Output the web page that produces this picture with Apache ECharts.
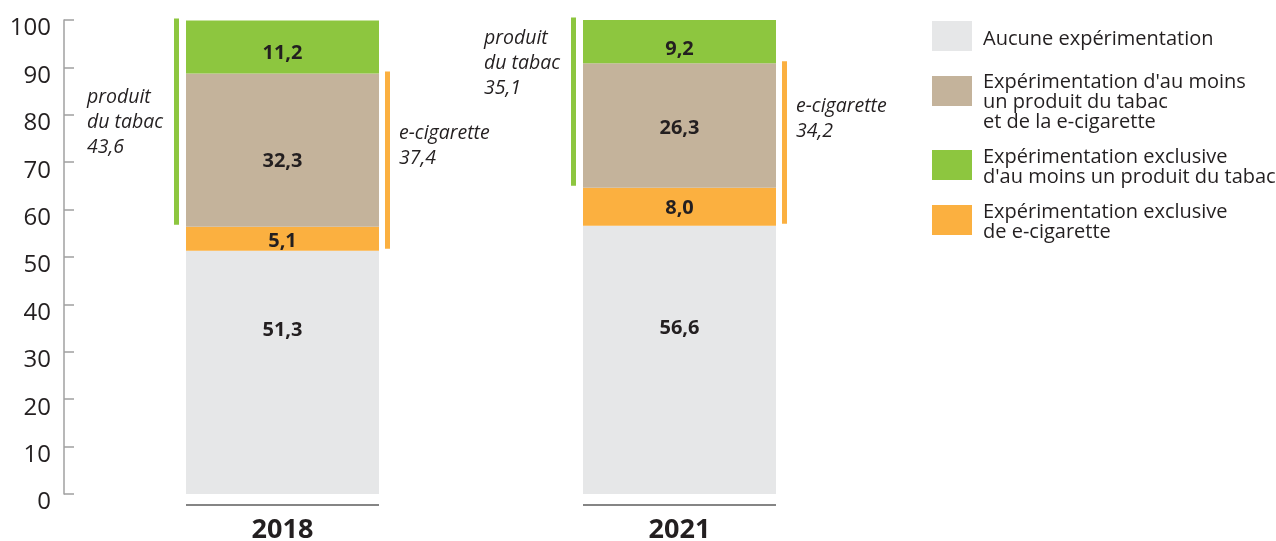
<!DOCTYPE html>
<html>
<head>
<meta charset="utf-8">
<script src="https://cdn.jsdelivr.net/npm/echarts@6/dist/echarts.min.js"></script>
<style>html,body{margin:0;padding:0;background:#fff;}#c{width:1276px;height:541px;}</style>
</head>
<body>
<div id="c"></div>
<script>
// ---- data ----
const years = ['2018', '2021'];
const noneExp = [51.3, 56.6];
const ecigOnly = [5.1, 8.0];
const bothExp = [32.3, 26.3];
const tobaccoOnly = [11.2, 9.2];
const tobaccoTotal = [43.6, 35.1];
const ecigTotal = [37.4, 34.2];
const seriesNames = [
  'Aucune expérimentation',
  "Expérimentation d'au moins\nun produit du tabac\net de la e-cigarette",
  "Expérimentation exclusive\nd'au moins un produit du tabac",
  'Expérimentation exclusive\nde e-cigarette'
];

// ---- styles / layout ----
const FONT = 'Open Sans';
const TXT = '#231f20';
const C_GREY = '#e6e7e8', C_TAN = '#c4b39b', C_GREEN = '#8dc63f', C_ORANGE = '#fbb040';
const BAR_W = 193;
const fmt = v => v.toFixed(1).replace('.', ',');
// per-bar label vertical offsets (layout only)
const OFF_NONE = [-42, -32], OFF_ECIG = [3, 2], OFF_BOTH = [11, 3], OFF_TOB = [6, 8];
const TOB_DY = [-1, -40];
const ECIG_DY = [-16, -25];

const chart = echarts.init(document.getElementById('c'), null, {renderer: 'canvas'});

function barSeries(name, values, color, offs) {
  return {
    name, type: 'bar', stack: 'all', xAxisIndex: 1, yAxisIndex: 1,
    barWidth: BAR_W, itemStyle: {color},
    data: values.map((v, i) => ({value: v, label: {offset: [0, offs[i]]}})),
    label: {show: true, position: 'inside', formatter: p => fmt(p.value),
      color: TXT, fontFamily: FONT, fontWeight: 'bold', fontSize: 20},
    emphasis: {disabled: true}
  };
}

const lowTob = years.map((y, i) => noneExp[i] + ecigOnly[i]);
const highTob = years.map((y, i) => noneExp[i] + ecigOnly[i] + bothExp[i] + tobaccoOnly[i]);
const lowEcig = years.map((y, i) => noneExp[i]);
const highEcig = years.map((y, i) => noneExp[i] + ecigOnly[i] + bothExp[i]);

function bracketSeries(color, lows, highs, totals, title, side, dys) {
  return {
    type: 'custom', xAxisIndex: 1, yAxisIndex: 1, silent: true, clip: false,
    data: years.map((y, i) => [i, lows[i], highs[i], totals[i]]),
    renderItem(params, api) {
      const i = api.value(0);
      const top = api.coord([i, api.value(2)]);
      const bot = api.coord([i, api.value(1)]);
      const cx = top[0];
      const lx = side === 'left' ? cx - BAR_W / 2 - 12 : cx + BAR_W / 2 + 6;
      const tx = side === 'left' ? cx - BAR_W / 2 - 99 : cx + BAR_W / 2 + 20;
      return {type: 'group', children: [
        {type: 'rect', shape: {x: lx, y: top[1] - 2, width: 5, height: bot[1] - top[1]}, style: {fill: color}},
        {type: 'text', style: {text: title + '\n' + fmt(api.value(3)), x: tx,
          y: (top[1] + bot[1]) / 2 + dys[i], align: 'left', verticalAlign: 'middle',
          fontFamily: FONT, fontStyle: 'italic', fontSize: 19.5, lineHeight: 25, fill: TXT}}
      ]};
    }
  };
}

const underline = {
  type: 'custom', xAxisIndex: 1, yAxisIndex: 1, silent: true, clip: false,
  data: years.map((y, i) => [i, 0]),
  renderItem(params, api) {
    const p = api.coord([api.value(0), api.value(1)]);
    return {type: 'rect', shape: {x: p[0] - BAR_W / 2, y: p[1] + 10, width: BAR_W, height: 2}, style: {fill: '#858585'}};
  }
};

function legendItem(name, top, pad) {
  return {
    data: [name], left: 932, top, orient: 'vertical', padding: 0,
    itemWidth: 40, itemHeight: 30, icon: 'rect', selectedMode: false,
    formatter: n => '{p| }\n' + n.split('\n').map(l => '{t|' + l + '}').join('\n'),
    textStyle: {padding: [0, 0, 0, 6],
      rich: {
        p: {fontSize: 4, lineHeight: pad, height: pad},
        t: {fontFamily: FONT, fontSize: 20, lineHeight: 20, color: TXT}
      }}
  };
}

chart.setOption({
  animation: false,
  backgroundColor: '#fff',
  grid: [
    {left: 64, top: 20, width: 10, height: 474, outerBoundsMode: 'none', containLabel: false},
    {left: 84, top: 20, width: 794, height: 474, outerBoundsMode: 'none', containLabel: false}
  ],
  xAxis: [
    {gridIndex: 0, type: 'value', show: false},
    {gridIndex: 1, type: 'category', data: years, axisLine: {show: false}, axisTick: {show: false},
      axisLabel: {margin: 36, verticalAlign: 'middle', fontFamily: FONT, fontWeight: 'bold', fontSize: 27, color: TXT}}
  ],
  yAxis: [
    {gridIndex: 0, type: 'value', min: 0, max: 100, interval: 10,
      axisLine: {show: true, lineStyle: {color: '#a0a0a0', width: 1.5}},
      axisTick: {show: true, inside: true, length: 10, lineStyle: {color: '#a0a0a0', width: 1.5}},
      axisLabel: {margin: 13, verticalAlign: 'top', lineHeight: 17, fontFamily: FONT, fontSize: 24, color: TXT},
      splitLine: {show: false}},
    {gridIndex: 1, type: 'value', min: 0, max: 100, show: false, splitLine: {show: false}}
  ],
  legend: [
    legendItem(seriesNames[0], 21, 6),
    legendItem(seriesNames[1], 49.5, 23),
    legendItem(seriesNames[2], 143, 4),
    legendItem(seriesNames[3], 198, 4)
  ],
  series: [
    barSeries(seriesNames[0], noneExp, C_GREY, OFF_NONE),
    barSeries(seriesNames[3], ecigOnly, C_ORANGE, OFF_ECIG),
    barSeries(seriesNames[1], bothExp, C_TAN, OFF_BOTH),
    barSeries(seriesNames[2], tobaccoOnly, C_GREEN, OFF_TOB),
    bracketSeries(C_GREEN, lowTob, highTob, tobaccoTotal, 'produit\ndu tabac', 'left', TOB_DY),
    bracketSeries(C_ORANGE, lowEcig, highEcig, ecigTotal, 'e-cigarette', 'right', ECIG_DY),
    underline
  ]
});
</script>
</body>
</html>
